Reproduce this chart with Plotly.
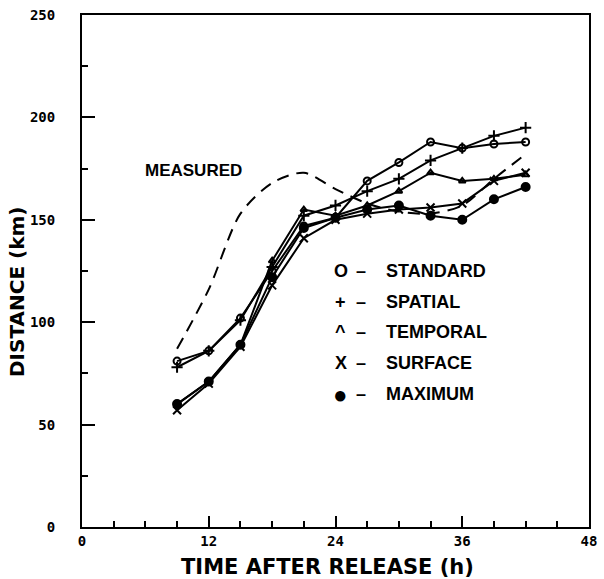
import plotly.graph_objects as go

time_h = [9, 12, 15, 18, 21, 24, 27, 30, 33, 36, 39, 42]
standard = [81, 86, 102, 125, 147, 151, 169, 178, 188, 185, 187, 188]
spatial = [78, 86, 101, 127, 152, 157, 164, 170, 179, 185, 191, 195]
temporal = [60, 71, 89, 130, 155, 152, 157, 164, 173, 169, 170, 172]
surface = [57, 70, 88, 118, 141, 150, 153, 155, 156, 158, 169, 173]
maximum = [60, 71, 89, 122, 146, 151, 155, 157, 152, 150, 160, 166]
measured = [87, 116, 153, 168, 173, 165, 158, 154, 153, 157, 170, 182]

legend_symbols = ["O", "+", "^", "X", "\u25cf"]
legend_names = ["STANDARD", "SPATIAL", "TEMPORAL", "SURFACE", "MAXIMUM"]

BOLD = "Liberation Sans"
WIDE = "DejaVu Sans"
MONO = "DejaVu Sans Mono"

fig = go.Figure()
fig.add_trace(go.Scatter(x=time_h, y=measured, mode="lines",
                         line=dict(color="black", width=2, dash="12px,8px", shape="spline", smoothing=0.8),
                         name="MEASURED"))

series = [
    (standard, "circle-open", 7),
    (spatial, "cross-thin-open", 8),
    (temporal, "triangle-up-open", 6),
    (surface, "x-thin-open", 8),
    (maximum, "circle", 8),
]
for vals, sym, sz in series:
    fig.add_trace(go.Scatter(x=time_h, y=vals, mode="lines+markers",
                             line=dict(color="black", width=2),
                             marker=dict(symbol=sym, size=sz, color="black",
                                         line=dict(color="black", width=2))))

def px_x(p):
    return (p - 82) / 515

def px_y(p):
    return (527 - p) / 512

fig.add_annotation(xref="paper", yref="paper", x=px_x(195.5), y=px_y(170), text="MEASURED",
                   showarrow=False, xanchor="center", yanchor="middle",
                   font=dict(family=BOLD, size=17, color="black", weight="bold"))
legend_y = [271, 302, 332, 363, 394]
sym_sizes = [18, 18, 18, 18, 24]
for i in range(len(legend_names)):
    fig.add_annotation(xref="paper", yref="paper", x=px_x(345), y=px_y(legend_y[i]),
                       text=legend_symbols[i], showarrow=False, xanchor="center", yanchor="middle",
                       font=dict(family=BOLD, size=sym_sizes[i], color="black", weight="bold"))
    fig.add_annotation(xref="paper", yref="paper", x=px_x(365), y=px_y(legend_y[i]),
                       text="\u2013", showarrow=False, xanchor="center", yanchor="middle",
                       font=dict(family=BOLD, size=18, color="black", weight="bold"))
    fig.add_annotation(xref="paper", yref="paper", x=px_x(389), y=px_y(legend_y[i]),
                       text=legend_names[i], showarrow=False, xanchor="left", yanchor="middle",
                       font=dict(family=BOLD, size=18, color="black", weight="bold"))

fig.add_annotation(xref="paper", yref="paper", x=px_x(331), y=px_y(567), text="TIME AFTER RELEASE (h)",
                   showarrow=False, xanchor="center", yanchor="middle",
                   font=dict(family=WIDE, size=21, color="black", weight="bold"))
fig.add_annotation(xref="paper", yref="paper", x=px_x(16), y=px_y(292), text="DISTANCE (km)",
                   showarrow=False, xanchor="center", yanchor="middle", textangle=-90,
                   font=dict(family=WIDE, size=20, color="black", weight="bold"))

axis_common = dict(showgrid=False, zeroline=False, showline=True, linecolor="black", linewidth=2,
                   mirror=True, ticks="inside", tickcolor="black", tickwidth=2,
                   tickfont=dict(family=MONO, size=14, color="black", weight="bold"))
fig.update_xaxes(range=[0, 48], tickvals=[0, 12, 24, 36, 48], ticklen=11,
                 minor=dict(dtick=3, tick0=0, ticks="inside", ticklen=6, tickcolor="black", tickwidth=2),
                 **axis_common)
fig.update_yaxes(range=[0, 250], tickvals=[0, 50, 100, 150, 200, 250], ticklen=13,
                 ticklabelstandoff=22,
                 minor=dict(dtick=25, tick0=0, ticks="inside", ticklen=6, tickcolor="black", tickwidth=2),
                 **axis_common)

fig.update_layout(width=604, height=579, margin=dict(l=82, r=7, t=15, b=52),
                  paper_bgcolor="white", plot_bgcolor="white", showlegend=False)
fig.write_html("out.html")
